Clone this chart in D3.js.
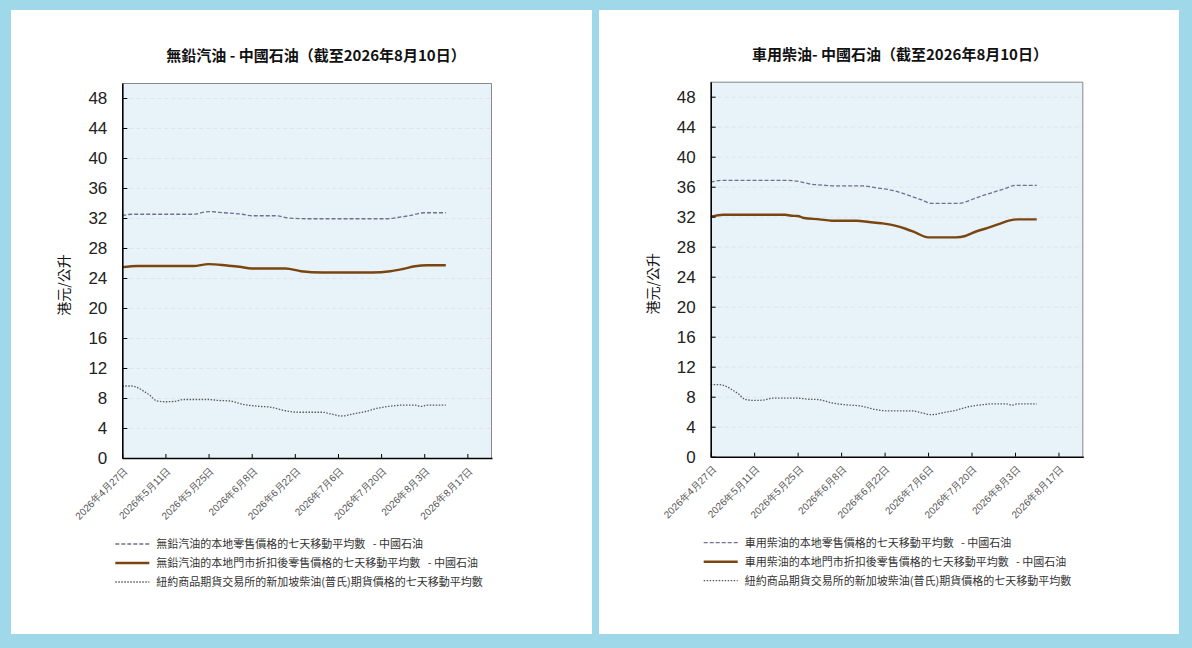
<!DOCTYPE html>
<html lang="zh-Hant">
<head>
<meta charset="UTF-8">
<title>中國石油 油價走勢</title>
<script src="https://d3js.org/d3.v7.min.js"></script>
<style>
  body { margin: 0; background: #9fd8e8; }
  svg { display: block; font-family: "Noto Sans CJK TC", sans-serif; }
  .title { font-size: 15px; font-weight: bold; fill: #111; }
  .ylabel { font-size: 14px; fill: #111; }
  .yaxis text { font-family: "Liberation Sans Narrow", "Liberation Sans", sans-serif; font-stretch: condensed; font-size: 17px; fill: #222; }
  .xaxis text { font-size: 10px; fill: #555; }
  .legend text { font-size: 11px; fill: #333; white-space: pre; }
  .grid line { stroke: #dbe5ec; stroke-dasharray: 4,3; }
  .grid path { display: none; }
</style>
</head>
<body>
<div id="chart"></div>
<script>
// ---- data ----
const xTickDates = ["2026-04-27", "2026-05-11", "2026-05-25", "2026-06-08", "2026-06-22",
                    "2026-07-06", "2026-07-20", "2026-08-03", "2026-08-17"];
const yTicks = [0, 4, 8, 12, 16, 20, 24, 28, 32, 36, 40, 44, 48];

const gasRetailDates = ["2026-04-27", "2026-04-30", "2026-05-20", "2026-05-25", "2026-05-30",
  "2026-06-05", "2026-06-08", "2026-06-16", "2026-06-20", "2026-06-26", "2026-07-22",
  "2026-07-25", "2026-07-29", "2026-08-03", "2026-08-10"];
const gasRetailValues = [32.3, 32.5, 32.5, 32.85, 32.7, 32.5, 32.3, 32.3, 32.0, 31.9, 31.9,
  32.05, 32.3, 32.7, 32.7];

const gasDiscountDates = ["2026-04-27", "2026-05-02", "2026-05-20", "2026-05-25", "2026-05-31",
  "2026-06-04", "2026-06-08", "2026-06-19", "2026-06-24", "2026-07-01", "2026-07-17",
  "2026-07-23", "2026-07-27", "2026-07-31", "2026-08-04", "2026-08-10"];
const gasDiscountValues = [25.45, 25.6, 25.6, 25.85, 25.66, 25.5, 25.27, 25.27, 24.9, 24.73,
  24.73, 24.9, 25.2, 25.57, 25.7, 25.7];

const dslRetailDates = ["2026-04-27", "2026-05-01", "2026-05-22", "2026-05-25", "2026-05-29",
  "2026-06-03", "2026-06-06", "2026-06-15", "2026-06-19", "2026-06-25", "2026-06-30",
  "2026-07-04", "2026-07-07", "2026-07-16", "2026-07-18", "2026-07-22", "2026-07-26",
  "2026-07-31", "2026-08-03", "2026-08-10"];
const dslRetailValues = [36.6, 36.85, 36.85, 36.72, 36.36, 36.18, 36.1, 36.1, 35.87, 35.47,
  34.8, 34.23, 33.78, 33.78, 33.96, 34.59, 35.12, 35.79, 36.18, 36.18];

const dslDiscountDates = ["2026-04-27", "2026-05-01", "2026-05-21", "2026-05-23", "2026-05-25",
  "2026-05-27", "2026-06-01", "2026-06-05", "2026-06-13", "2026-06-17", "2026-06-21",
  "2026-06-25", "2026-06-29", "2026-07-02", "2026-07-06", "2026-07-15", "2026-07-18",
  "2026-07-20", "2026-07-25", "2026-07-29", "2026-08-01", "2026-08-04", "2026-08-10"];
const dslDiscountValues = [32.0, 32.27, 32.27, 32.13, 32.1, 31.83, 31.65, 31.47, 31.47, 31.29,
  31.12, 30.85, 30.36, 29.87, 29.25, 29.25, 29.43, 29.79, 30.49, 31.03, 31.47, 31.65, 31.65];

const nymexDates = ["2026-04-27", "2026-04-30", "2026-05-04", "2026-05-06", "2026-05-08",
  "2026-05-11", "2026-05-14", "2026-05-17", "2026-05-25", "2026-05-28", "2026-06-01",
  "2026-06-05", "2026-06-10", "2026-06-14", "2026-06-19", "2026-06-23", "2026-07-01",
  "2026-07-04", "2026-07-07", "2026-07-11", "2026-07-15", "2026-07-19", "2026-07-24",
  "2026-07-27", "2026-07-31", "2026-08-02", "2026-08-04", "2026-08-10"];
const nymexValues = [9.6, 9.6, 8.9, 8.35, 7.65, 7.5, 7.55, 7.8, 7.8, 7.68, 7.6, 7.17, 6.9,
  6.78, 6.3, 6.1, 6.1, 5.85, 5.6, 5.88, 6.2, 6.66, 6.95, 7.05, 7.05, 6.88, 7.05, 7.05];

const nymexLabel = "紐約商品期貨交易所的新加坡柴油(普氏)期貨價格的七天移動平均數";

// ---- layout ----
const W = 1192, H = 648;
const parse = d3.timeParse("%Y-%m-%d");
const fmt = d3.timeFormat("%Y年%-m月%-d日");
const xDomain = [parse("2026-04-27"), parse("2026-08-25")];

const styles = {
  retail:   { stroke: "#6f6f90", width: 1.3, dash: "4,2" },
  discount: { stroke: "#7b4510", width: 2.4, dash: null },
  nymex:    { stroke: "#5a5a5a", width: 1.3, dash: "1.5,1.5" }
};

const panels = [
  {
    card: { x: 11, y: 10, w: 581, h: 624 },
    plot: { x: 122.3, y: 83, w: 369.7, h: 375 },
    title: "無鉛汽油 - 中國石油（截至2026年8月10日）",
    titleX: 316, titleY: 61,
    series: [
      { label: "無鉛汽油的本地零售價格的七天移動平均數   - 中國石油", dates: gasRetailDates, values: gasRetailValues, style: styles.retail },
      { label: "無鉛汽油的本地門市折扣後零售價格的七天移動平均數   - 中國石油", dates: gasDiscountDates, values: gasDiscountValues, style: styles.discount },
      { label: nymexLabel, dates: nymexDates, values: nymexValues, style: styles.nymex }
    ]
  },
  {
    card: { x: 599, y: 10, w: 580, h: 624 },
    plot: { x: 710.7, y: 81.7, w: 372.6, h: 375 },
    title: "車用柴油- 中國石油（截至2026年8月10日）",
    titleX: 900, titleY: 60,
    series: [
      { label: "車用柴油的本地零售價格的七天移動平均數   - 中國石油", dates: dslRetailDates, values: dslRetailValues, style: styles.retail },
      { label: "車用柴油的本地門市折扣後零售價格的七天移動平均數   - 中國石油", dates: dslDiscountDates, values: dslDiscountValues, style: styles.discount },
      { label: nymexLabel, dates: nymexDates, values: nymexValues, style: styles.nymex }
    ]
  }
];

const svg = d3.select("#chart").append("svg")
  .attr("width", W).attr("height", H);

svg.append("rect").attr("width", W).attr("height", H).attr("fill", "#9fd8e8");

panels.forEach(p => {
  svg.append("rect")
    .attr("x", p.card.x).attr("y", p.card.y)
    .attr("width", p.card.w).attr("height", p.card.h)
    .attr("fill", "#fff");

  svg.append("text")
    .attr("class", "title")
    .attr("x", p.titleX).attr("y", p.titleY)
    .attr("text-anchor", "middle")
    .text(p.title);

  const g = svg.append("g").attr("transform", `translate(${p.plot.x},${p.plot.y})`);

  const x = d3.scaleTime().domain(xDomain).range([0, p.plot.w]);
  const y = d3.scaleLinear().domain([0, 50]).range([p.plot.h, 0]);

  g.append("rect")
    .attr("width", p.plot.w).attr("height", p.plot.h)
    .attr("fill", "#e8f3f9");

  // gridlines
  g.append("g").attr("class", "grid")
    .call(d3.axisLeft(y).tickValues(yTicks.slice(1)).tickSize(-p.plot.w).tickFormat(""));

  // top / right border
  g.append("path")
    .attr("d", `M0,0.5H${p.plot.w - 0.5}V${p.plot.h}`)
    .attr("fill", "none").attr("stroke", "#8a8a8a");

  // lines
  p.series.forEach(s => {
    const pts = s.dates.map((d, i) => ({ date: parse(d), value: s.values[i] }));
    g.append("path")
      .datum(pts)
      .attr("fill", "none")
      .attr("stroke", s.style.stroke)
      .attr("stroke-width", s.style.width)
      .attr("stroke-dasharray", s.style.dash)
      .attr("d", d3.line()
        .x(d => x(d.date))
        .y(d => y(d.value))
        .curve(d3.curveMonotoneX));
  });

  // y axis
  const ya = g.append("g").attr("class", "yaxis")
    .call(d3.axisLeft(y).tickValues(yTicks).tickSize(-5).tickPadding(15).tickSizeOuter(0));
  ya.select(".domain").attr("stroke", "#000").attr("stroke-width", 1.6);
  ya.selectAll(".tick line").attr("stroke", "#000");

  // x axis
  const xa = g.append("g").attr("class", "xaxis")
    .attr("transform", `translate(0,${p.plot.h})`)
    .call(d3.axisBottom(x).tickValues(xTickDates.map(parse)).tickFormat(fmt)
      .tickSize(-4).tickSizeOuter(0));
  xa.select(".domain").attr("stroke", "#000").attr("stroke-width", 1.6);
  xa.selectAll(".tick line").attr("stroke", "#000");
  xa.selectAll(".tick text")
    .attr("text-anchor", "end")
    .attr("x", 0).attr("y", 0).attr("dy", "0.35em")
    .attr("transform", "translate(3,11) rotate(-45)");

  // y label
  svg.append("text")
    .attr("class", "ylabel")
    .attr("transform", `translate(${p.plot.x - 53},${p.plot.y + 202}) rotate(-90)`)
    .attr("text-anchor", "middle")
    .text("港元/公升");

  // legend
  const lg = svg.append("g").attr("class", "legend")
    .attr("transform", `translate(${p.plot.x - 7},${p.plot.y + p.plot.h + 86})`);
  p.series.forEach((s, i) => {
    const row = lg.append("g").attr("transform", `translate(0,${i * 19})`);
    row.append("line")
      .attr("x1", 0).attr("x2", 34)
      .attr("stroke", s.style.stroke)
      .attr("stroke-width", s.style.width)
      .attr("stroke-dasharray", s.style.dash);
    row.append("text")
      .attr("x", 41).attr("dy", "0.38em")
      .text(s.label);
  });
});
</script>
</body>
</html>
